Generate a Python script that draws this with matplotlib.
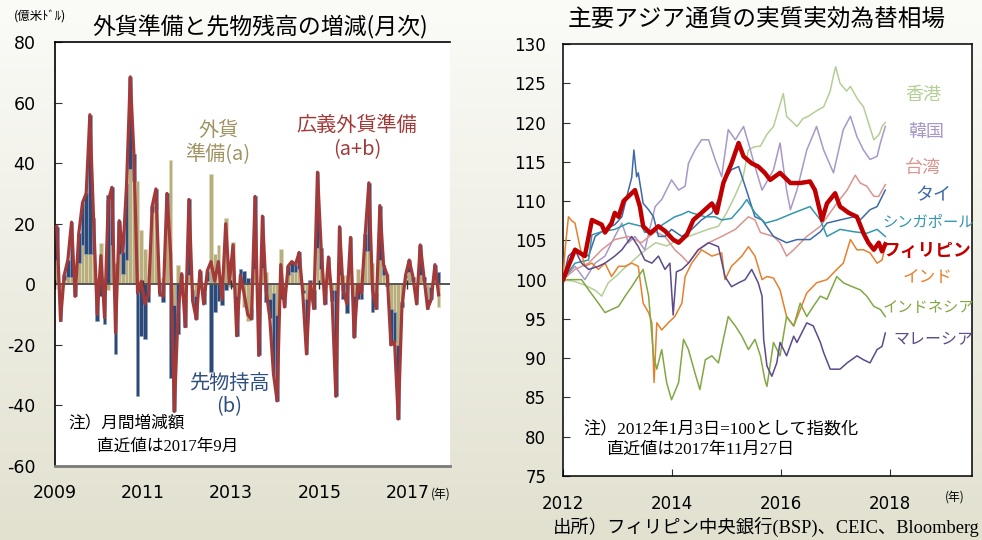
import numpy as np
import matplotlib
matplotlib.use('Agg')
import matplotlib.pyplot as plt
from matplotlib.colors import LinearSegmentedColormap

plt.rcParams['font.family'] = ['Noto Sans CJK JP', 'DejaVu Sans']

# ---------------- Left panel data (monthly, 2009-01 .. 2017-09) ----------------
reserves_a = [8, -3, 1.5, 2.5, 2.5, 0, 7, 13, 10, 10, 10, 2,
              13.5, 2, -2, 13, 7, 10, 3.5, 8, 38, 34, 34, 18,
              11.5, 3, 24, 25, 1, 2, 23, 41, -7, 6.5, 2, -5,
              3, -2, -4, 2, -3, 1, 36.5, 10, 13, 2, 22, -1,
              14, -4, -2, -7.5, -12, -8, 5, -3, 5.5, 4, -5, -3,
              -10, 11.5, -5, 3, 4, 4, 5, -2, -5, -1, -2, 12,
              5, -2, 3, -2, -2, 3, 3, 3, 5.5, -4, 5, 2,
              11, 11, 7, -3, 8, 3, 3.5, -8, -9, -20, -6, 2,
              4, 1, -3, 3, 1, -5, -1, 2, -7.5]
forwards_b = [11, -9, 1.5, 5.5, 18, -4, 10, 14, 20, 46, 12, -12,
              -4, -13, 29.5, 19, -23, 11, 7, 25, 30.5, 9, -37, -17,
              -18, -6, 2, 6.5, -4, -6, 7, -31, -35, -16.5, 1.5, -9,
              25, -3.5, -7.5, 2.5, -3.5, 3.5, -29, -9, -5.5, -7, -2, 1.5,
              -1, -13, 5, 4.5, 2, -3.5, 24, -20.5, 17, -6, -6, -26.5,
              -28.5, -5, -2.5, 3, 3.5, 2.5, 5.5, -1, -18, 1.5, -6, 25,
              7, -4.5, 6, -3.5, -35, 16, -5, -9.5, 10, -13.5, -5, -5,
              5.5, 22.5, -9, -5, 18, 3.5, -0.5, -12, -10, -24.5, -1.5, 1,
              4, 1.5, -3.5, 10, 1.5, -3, -4, 4.5, 4]
left_years = [2009, 2011, 2013, 2015, 2017]
left_yticks = [-60, -40, -20, 0, 20, 40, 60, 80]

# ---------------- Right panel data (REER, 2012-01-03 = 100) ----------------
hk_t = [2012.0, 2012.2, 2012.4, 2012.6, 2012.71, 2012.83, 2013.0, 2013.1, 2013.3, 2013.44, 2013.6, 2013.7,
        2013.9, 2014.1, 2014.3, 2014.5, 2014.7, 2014.85, 2015.0, 2015.15, 2015.3, 2015.4, 2015.5, 2015.62,
        2015.74, 2015.86, 2016.04, 2016.1, 2016.29, 2016.4, 2016.5, 2016.65, 2016.78, 2016.9, 2016.96,
        2017.0, 2017.08, 2017.2, 2017.27, 2017.4, 2017.51, 2017.6, 2017.7, 2017.8, 2017.85, 2017.91]
hk_v = [100, 99.8, 99.3, 98.6, 97.9, 99.6, 100.6, 101.3, 102.5, 103.4, 104.2, 104.7,
        104.3, 105, 105.5, 106, 106.5, 106.8, 108.5, 110.6, 113, 116.5, 116.9, 117,
        118.5, 119.5, 123.7, 120.8, 119.5, 120.5, 120.8, 121.5, 122, 124, 126,
        127.1, 125, 124, 124.6, 123, 122, 120, 117.8, 118.5, 119.5, 120]

kr_t = [2012.0, 2012.22, 2012.4, 2012.59, 2012.77, 2012.95, 2013.08, 2013.2, 2013.32, 2013.5, 2013.69,
        2013.81, 2013.99, 2014.12, 2014.24, 2014.3, 2014.42, 2014.54, 2014.67, 2014.79, 2014.91, 2015.03,
        2015.16, 2015.31, 2015.4, 2015.52, 2015.65, 2015.74, 2015.86, 2015.98, 2016.1, 2016.17, 2016.29,
        2016.47, 2016.65, 2016.78, 2016.96, 2017.14, 2017.27, 2017.39, 2017.51, 2017.63, 2017.76, 2017.82,
        2017.91]
kr_v = [100, 101.7, 100, 102.1, 103, 105.5, 107.2, 104.7, 105.5, 103.8, 109.3,
        110.2, 112.7, 111.4, 111.9, 114.8, 116.5, 117.8, 117.8, 115.3, 113.1, 119.1,
        117.8, 119.5, 117.4, 114.4, 111.4, 112.5, 114, 117.4, 111.4, 108.9, 111.4,
        116.5, 119.5, 116.5, 113.6, 119.1, 120.8, 118.2, 116.5, 115.3, 115.7, 117.4,
        119.5]

tw_t = [2012.0, 2012.22, 2012.47, 2012.71, 2012.95, 2013.2, 2013.44, 2013.69, 2013.87, 2014.05, 2014.18,
        2014.3, 2014.48, 2014.67, 2014.91, 2015.16, 2015.4, 2015.52, 2015.62, 2015.86, 2015.98, 2016.1,
        2016.23, 2016.47, 2016.72, 2017.02, 2017.21, 2017.36, 2017.45, 2017.57, 2017.7, 2017.79, 2017.91]
tw_v = [100, 101.3, 102.1, 103.8, 105.1, 105.5, 104.7, 106.1, 105.5, 103.8, 103,
        102.1, 103.8, 104.7, 105.5, 106.4, 108, 107.6, 106, 105.5, 104.7, 103,
        103.8, 105.5, 106.8, 109.7, 111.4, 113.3, 112.3, 111.9, 110.6, 110.6, 112.1]

th_t = [2012.0, 2012.22, 2012.34, 2012.47, 2012.59, 2012.77, 2012.95, 2013.08, 2013.2, 2013.26, 2013.3,
        2013.35, 2013.38, 2013.47, 2013.57, 2013.66, 2013.75, 2013.87, 2013.99, 2014.18, 2014.36, 2014.54,
        2014.73, 2014.88, 2014.97, 2015.09, 2015.22, 2015.34, 2015.52, 2015.65, 2015.86, 2016.1, 2016.29,
        2016.53, 2016.72, 2016.84, 2017.08, 2017.33, 2017.45, 2017.63, 2017.76, 2017.91]
th_v = [100, 104, 103.4, 103, 105.5, 106.4, 107, 108, 111.4, 113, 116.5,
        113.1, 113.6, 109.7, 108.9, 108, 105.5, 105.5, 106.4, 105.5, 106.4, 107.6,
        108.5, 110.6, 112.7, 114, 114.4, 111.9, 108, 107.6, 105.5, 104.7, 105.1,
        105.1, 106.1, 107.2, 107.6, 108, 107.6, 108.9, 109.3, 111.4]

sg_t = [2012.0, 2012.22, 2012.47, 2012.53, 2012.71, 2012.95, 2013.2, 2013.44, 2013.5, 2013.69, 2013.87,
        2014.05, 2014.18, 2014.3, 2014.36, 2014.61, 2014.79, 2014.91, 2015.09, 2015.28, 2015.37, 2015.52,
        2015.71, 2015.92, 2016.23, 2016.53, 2016.72, 2016.84, 2017.08, 2017.33, 2017.57, 2017.76, 2017.91]
sg_v = [100, 102.1, 102.5, 105.7, 106.1, 106.4, 107.2, 106.8, 106, 106.4, 107.2,
        108, 108.3, 108.7, 108.5, 108, 108, 107.6, 107.8, 109.3, 110.2, 108.5,
        107.2, 107.6, 108.5, 109.3, 107.6, 105.5, 106.4, 106.1, 105.9, 106.4, 105.5]

ph_t = [2012.0, 2012.22, 2012.4, 2012.53, 2012.71, 2012.77, 2012.89, 2012.95, 2013.02, 2013.11, 2013.2,
        2013.32, 2013.41, 2013.47, 2013.6, 2013.75, 2013.87, 2014.02, 2014.12, 2014.27, 2014.39, 2014.54,
        2014.73, 2014.82, 2014.94, 2015.09, 2015.22, 2015.31, 2015.46, 2015.58, 2015.7, 2015.8, 2015.98,
        2016.17, 2016.35, 2016.53, 2016.62, 2016.75, 2016.84, 2016.99, 2017.08, 2017.24, 2017.39, 2017.51,
        2017.6, 2017.7, 2017.79, 2017.85, 2017.91]
ph_v = [100, 103.8, 103, 107.6, 107, 106, 107.2, 108.5, 108, 110, 110.6,
        111.4, 109.3, 106.8, 105.9, 106.8, 106.2, 105.1, 104.7, 105.7, 107.6, 108.5,
        109.7, 108.5, 112.3, 114.8, 117.4, 115.7, 114.8, 114.4, 113.6, 112.7, 113.6,
        112.3, 112.3, 112.5, 111.4, 107.6, 109.7, 111, 109.3, 108.5, 108, 105.9,
        104.7, 103.8, 104.7, 103.6, 104.5]

in_t = [2012.0, 2012.04, 2012.1, 2012.16, 2012.22, 2012.31, 2012.4, 2012.53, 2012.65, 2012.77, 2012.89,
        2013.02, 2013.14, 2013.26, 2013.38, 2013.47, 2013.57, 2013.63, 2013.67, 2013.72, 2013.81, 2013.93,
        2014.05, 2014.18, 2014.24, 2014.36, 2014.54, 2014.73, 2014.91, 2014.97, 2015.09, 2015.28, 2015.4,
        2015.52, 2015.65, 2015.74, 2015.86, 2015.98, 2016.1, 2016.23, 2016.35, 2016.47, 2016.65, 2016.84,
        2017.02, 2017.14, 2017.27, 2017.39, 2017.51, 2017.63, 2017.76, 2017.85, 2017.91]
in_v = [100, 104, 108, 107.5, 107.2, 104.2, 101.7, 102.1, 101.3, 102.1, 100.4,
        101.7, 101.7, 102.1, 101.7, 97, 95.8, 94.5, 86.9, 94.5, 93.6, 94.5,
        95.3, 97, 100.4, 102.1, 103.8, 103, 103.4, 100, 101.7, 103, 104.2,
        103, 100, 100.4, 100.2, 98.7, 95.3, 94.1, 96.2, 98.3, 99.6, 100,
        101.3, 102.1, 105.1, 103.8, 103.8, 103.4, 102.1, 102.5, 104.2]

id_t = [2012.0, 2012.16, 2012.34, 2012.47, 2012.65, 2012.77, 2012.89, 2013.02, 2013.14, 2013.26, 2013.38,
        2013.47, 2013.57, 2013.66, 2013.72, 2013.81, 2013.9, 2013.99, 2014.12, 2014.21, 2014.3, 2014.42,
        2014.51, 2014.61, 2014.73, 2014.85, 2014.94, 2015.03, 2015.16, 2015.28, 2015.4, 2015.52, 2015.62,
        2015.7, 2015.74, 2015.86, 2015.98, 2016.1, 2016.23, 2016.35, 2016.47, 2016.59, 2016.72, 2016.84,
        2017.02, 2017.14, 2017.27, 2017.45, 2017.57, 2017.7, 2017.82, 2017.91]
id_v = [100, 100, 100, 98.7, 97, 95.8, 96.2, 96.6, 97.9, 99.1, 100.4,
        101.3, 97.9, 90.3, 88.6, 91.1, 86.9, 84.7, 86.9, 92.4, 91.1, 88.1,
        86, 89.8, 90.3, 89.4, 92.4, 95.3, 94.1, 92.8, 91.1, 92.4, 90.3,
        87.3, 86.4, 92, 90.3, 95.3, 94.1, 97, 95.3, 96.6, 97.9, 97.5,
        100.4, 99.6, 99.2, 98.7, 97.9, 96.6, 96.2, 95.3]

my_t = [2012.0, 2012.1, 2012.22, 2012.34, 2012.47, 2012.65, 2012.77, 2012.95, 2013.08, 2013.26, 2013.38,
        2013.5, 2013.63, 2013.75, 2013.87, 2013.96, 2014.02, 2014.08, 2014.18, 2014.3, 2014.48, 2014.67,
        2014.85, 2014.97, 2015.09, 2015.22, 2015.34, 2015.46, 2015.58, 2015.65, 2015.68, 2015.74, 2015.83,
        2015.92, 2015.98, 2016.1, 2016.23, 2016.29, 2016.47, 2016.59, 2016.72, 2016.78, 2016.9, 2017.08,
        2017.21, 2017.39, 2017.51, 2017.63, 2017.76, 2017.85, 2017.91]
my_v = [100, 103, 103.8, 102.1, 101.3, 101.7, 102.1, 103, 103.8, 105.5, 104.2,
        102.5, 102.1, 103, 101.3, 102.1, 95.5, 101, 101.3, 102.1, 103.8, 104.7,
        104.2, 100.4, 99.1, 99.6, 100, 101.3, 99.6, 97.9, 92.4, 89, 87.7,
        89.4, 92, 90.3, 92.8, 92, 94.5, 94.1, 92, 90.7, 88.6, 88.6,
        89.4, 90.3, 89.8, 89.4, 91.1, 91.5, 93.2]

series_names = ['香港', '韓国', '台湾', 'タイ', 'シンガポール', 'インド', 'インドネシア', 'マレーシア', 'フィリピン']
series_t = [hk_t, kr_t, tw_t, th_t, sg_t, in_t, id_t, my_t, ph_t]
series_v = [hk_v, kr_v, tw_v, th_v, sg_v, in_v, id_v, my_v, ph_v]
series_colors = ['#b3cf95', '#a898c8', '#d9958f', '#3d6aa8', '#3497ad', '#e5802e', '#82a844', '#5c4a8a', '#c00000']
right_xticks = [2012, 2014, 2016, 2018]
right_yticks = [75, 80, 85, 90, 95, 100, 105, 110, 115, 120, 125, 130]

# ---------------- Figure ----------------
W, H = 982, 540
fig = plt.figure(figsize=(W / 100, H / 100), dpi=100)

bg = fig.add_axes([0, 0, 1, 1], zorder=-10)
grad = np.linspace(0, 1, 256).reshape(-1, 1)
cmap_bg = LinearSegmentedColormap.from_list('bg', ['#fbfbf8', '#e2e1d0'])
bg.imshow(grad, aspect='auto', cmap=cmap_bg, extent=[0, 1, 0, 1], origin='upper')
bg.axis('off')

def fx(px):
    return px / W

def fy(py):
    return 1 - py / H

# ---- Left panel ----
a = np.array(reserves_a, dtype=float)
b = np.array(forwards_b, dtype=float)
months = np.arange(len(a))
ax1 = fig.add_axes([fx(55), fy(466), fx(450) - fx(55), fy(42) - fy(466)])
ax1.set_facecolor('white')
ax1.bar(months, a, width=1.0, color='#b8ad7c', edgecolor='#e0dac0', linewidth=0.5, zorder=1)
b_bottom = np.where(np.sign(a) == np.sign(b), a, 0.0)
ax1.bar(months, b, bottom=b_bottom, width=1.0, color='#2c4a78', edgecolor='#8fa0c0', linewidth=0.4, zorder=1)
ax1.axhline(0, color='#555555', lw=1.4, zorder=2)
year_pos = [(y - 2009) * 12 - 0.5 for y in left_years]
ax1.vlines(year_pos, -1.5, 1.5, color='#333333', lw=1.0, zorder=2)
ax1.plot(months, a + b, color='#a33a3a', lw=2.3, zorder=3, solid_joinstyle='round')
ax1.set_xlim(-0.5, 107.1)
ax1.set_ylim(-60, 80)
ax1.set_yticks(left_yticks)
ax1.set_yticklabels([str(v) for v in left_yticks], fontsize=12.5, family=['DejaVu Sans'])
ax1.tick_params(axis='y', direction='in', length=5, pad=14, color='#333333')
ax1.set_xticks(year_pos)
ax1.set_xticklabels([str(y) for y in left_years], fontsize=12.5, family=['DejaVu Sans'])
ax1.tick_params(axis='x', length=0, pad=13)
ax1.spines['right'].set_visible(False)
ax1.spines['top'].set_linewidth(1.2)
ax1.spines['left'].set_linewidth(1.2)
ax1.spines['bottom'].set_color('#7a7a7a')
ax1.spines['bottom'].set_linewidth(2)

fig.text(fx(260), fy(27), '外貨準備と先物残高の増減(月次)', fontsize=16.5, ha='center', va='center')
fig.text(fx(14), fy(17), '(億米ﾄﾞﾙ)', fontsize=9, ha='left', va='center')
fig.text(fx(431), fy(494), '(年)', fontsize=8.5, ha='left', va='center')

ax1.text(0.413, 0.762, '外貨\n準備(a)', transform=ax1.transAxes, color='#a09462', fontsize=14.5,
         ha='center', va='center', linespacing=1.2)
ax1.text(0.765, 0.774, '広義外貨準備\n(a+b)', transform=ax1.transAxes, color='#a33a3a', fontsize=14.5,
         ha='center', va='center', linespacing=1.2)
ax1.text(0.44, 0.167, '先物持高\n(b)', transform=ax1.transAxes, color='#2f4f80', fontsize=14.5,
         ha='center', va='center', linespacing=1.15)
ax1.text(0.033, 0.101, '注）月間増減額', transform=ax1.transAxes, fontsize=12, ha='left', va='center',
         family=['Liberation Serif', 'Noto Sans CJK JP'])
ax1.text(0.106, 0.045, '直近値は2017年9月', transform=ax1.transAxes, fontsize=12, ha='left', va='center',
         family=['Liberation Serif', 'Noto Sans CJK JP'])

# ---- Right panel ----
ax2 = fig.add_axes([fx(563), fy(476), fx(972) - fx(563), fy(44) - fy(476)])
ax2.set_facecolor('white')
for name, t, v, c in zip(series_names, series_t, series_v, series_colors):
    if name == 'フィリピン':
        ax2.plot(t, v, color=c, lw=3.2, zorder=4, solid_joinstyle='round')
    else:
        ax2.plot(t, v, color=c, lw=1.1, zorder=3)
ax2.set_xlim(2012, 2019.5)
ax2.set_ylim(75, 130)
ax2.set_xticks(right_xticks)
ax2.set_xticklabels([str(x) for x in right_xticks], fontsize=12, family=['DejaVu Sans'])
ax2.set_yticks(right_yticks)
ax2.set_yticklabels([str(y) for y in right_yticks], fontsize=12, family=['DejaVu Sans'])
ax2.tick_params(axis='both', direction='in', length=5, color='#333333')
ax2.tick_params(axis='y', pad=12)
ax2.tick_params(axis='x', pad=14)
for s in ax2.spines.values():
    s.set_linewidth(1.1)

label_pos = {'香港': (2018.6, 123.5), '韓国': (2018.67, 118.8), '台湾': (2018.6, 114.2),
             'タイ': (2018.79, 110.8), 'シンガポール': (2018.7, 107.3), 'フィリピン': (2018.68, 103.6),
             'インド': (2018.68, 100.3), 'インドネシア': (2018.7, 96.5), 'マレーシア': (2018.79, 92.4)}
label_size = {'香港': 13, '韓国': 13, '台湾': 13, 'タイ': 13, 'シンガポール': 11,
              'フィリピン': 12.8, 'インド': 12, 'インドネシア': 11, 'マレーシア': 11.5}
for name, c in zip(series_names, series_colors):
    x, y = label_pos[name]
    if name == 'フィリピン':
        ax2.text(x, y, name, color=c, fontsize=label_size[name], fontweight='bold', ha='center', va='center')
    else:
        ax2.text(x, y, name, color=c, fontsize=label_size[name], ha='center', va='center')

ax2.text(0.049, 0.106, '注）2012年1月3日=100として指数化', transform=ax2.transAxes, fontsize=12.3,
         ha='left', va='center', family=['Liberation Serif', 'Noto Sans CJK JP'])
ax2.text(0.108, 0.06, '直近値は2017年11月27日', transform=ax2.transAxes, fontsize=12.3,
         ha='left', va='center', family=['Liberation Serif', 'Noto Sans CJK JP'])

fig.text(fx(757), fy(20), '主要アジア通貨の実質実効為替相場', fontsize=17, ha='center', va='center')
fig.text(fx(955), fy(497), '(年)', fontsize=8.5, ha='center', va='center')
fig.text(fx(980), fy(527), '出所）フィリピン中央銀行(BSP)、CEIC、Bloomberg', fontsize=13.2, ha='right', va='center',
         family=['Liberation Serif', 'Noto Sans CJK JP'])

fig.savefig('out.png', dpi=100)
